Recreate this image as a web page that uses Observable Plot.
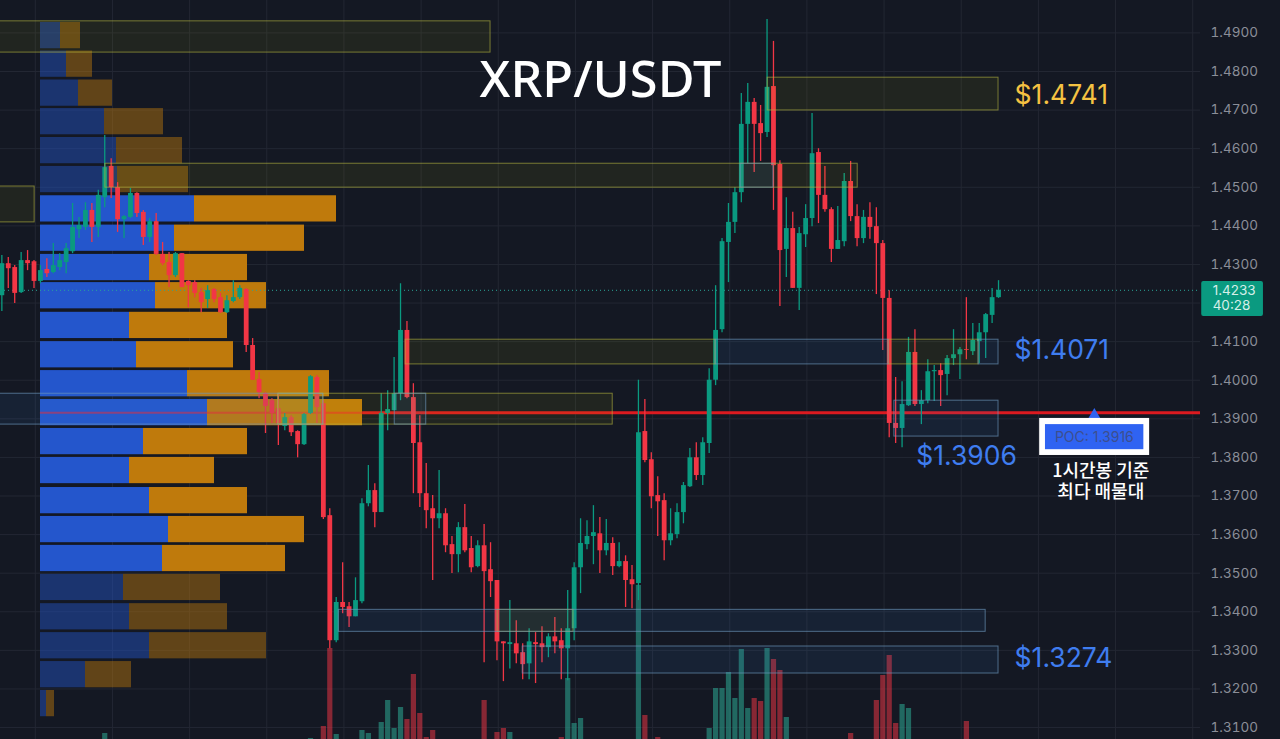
<!DOCTYPE html>
<html><head><meta charset="utf-8">
<style>html,body{margin:0;padding:0;background:#141823;overflow:hidden}#chart{position:relative;width:1280px;height:739px}</style>
<script src="https://cdn.jsdelivr.net/npm/d3@7"></script>
<script src="https://cdn.jsdelivr.net/npm/@observablehq/plot@0.6"></script>
</head><body><div id="chart"></div>
<script>
const open=[1.4219,1.4302,1.4292,1.4227,1.4310,1.4307,1.4256,1.4287,1.4279,1.4292,
1.4305,1.4333,1.4390,1.4396,1.4440,1.4396,1.4473,1.4554,1.4499,1.4416,
1.4422,1.4484,1.4435,1.4370,1.4411,1.4326,1.4305,1.4271,1.4328,1.4256,
1.4253,1.4227,1.4209,1.4235,1.4214,1.4175,1.4204,1.4214,1.4235,1.4090,
1.4002,1.3965,1.3947,1.3926,1.3880,1.3903,1.3867,1.3833,1.3914,1.4007,
1.3939,1.3649,1.3325,1.3424,1.3413,1.3387,1.3426,1.3680,1.3714,1.3657,
1.3914,1.3921,1.3965,1.4129,1.3955,1.3838,1.3706,1.3667,1.3641,1.3654,
1.3574,1.3548,1.3618,1.3564,1.3517,1.3571,1.3509,1.3481,1.3322,1.3315,
1.3317,1.3294,1.3265,1.3320,1.3317,1.3307,1.3335,1.3325,1.3304,1.3356,
1.3514,1.3574,1.3595,1.3602,1.3558,1.3577,1.3517,1.3530,1.3483,1.3473,
1.3867,1.3794,1.3701,1.3688,1.3584,1.3600,1.3657,1.3724,1.3799,1.3753,
1.3836,1.4000,1.4131,1.4357,1.4409,1.4486,1.4663,1.4720,1.4665,1.4642,
1.4761,1.4559,1.4339,1.4393,1.4238,1.4377,1.4419,1.4590,1.4479,1.4442,
1.4339,1.4359,1.4515,1.4424,1.4367,1.4422,1.4398,1.4354,1.4212,1.3888,
1.3875,1.3934,1.4072,1.3937,1.3947,1.4022,1.4025,1.4015,1.4056,1.4066,
1.4079,1.4074,1.4100,1.4123,1.4168,1.4214];
const close=[1.4302,1.4289,1.4225,1.4310,1.4302,1.4256,1.4284,1.4276,1.4297,1.4310,
1.4341,1.4396,1.4401,1.4440,1.4396,1.4479,1.4551,1.4499,1.4416,1.4424,
1.4484,1.4432,1.4370,1.4411,1.4326,1.4302,1.4271,1.4328,1.4240,1.4245,
1.4225,1.4201,1.4232,1.4209,1.4175,1.4206,1.4214,1.4238,1.4090,1.4000,
1.3968,1.3932,1.3914,1.3888,1.3903,1.3864,1.3833,1.3911,1.4009,1.3929,
1.3644,1.3325,1.3424,1.3411,1.3387,1.3429,1.3680,1.3714,1.3657,1.3914,
1.3924,1.3965,1.4129,1.3955,1.3836,1.3706,1.3662,1.3641,1.3654,1.3571,
1.3548,1.3618,1.3558,1.3514,1.3571,1.3504,1.3478,1.3322,1.3317,1.3320,
1.3291,1.3263,1.3322,1.3315,1.3307,1.3335,1.3322,1.3304,1.3356,1.3514,
1.3577,1.3595,1.3605,1.3558,1.3577,1.3517,1.3530,1.3481,1.3470,1.3864,
1.3792,1.3698,1.3685,1.3584,1.3602,1.3657,1.3727,1.3799,1.3753,1.3838,
1.4000,1.4129,1.4359,1.4409,1.4486,1.4663,1.4720,1.4663,1.4639,1.4759,
1.4556,1.4336,1.4393,1.4238,1.4380,1.4419,1.4587,1.4479,1.4442,1.4339,
1.4362,1.4515,1.4424,1.4367,1.4422,1.4396,1.4354,1.4212,1.3888,1.3875,
1.3937,1.4072,1.3937,1.3947,1.4022,1.4025,1.4012,1.4056,1.4066,1.4079,
1.4077,1.4103,1.4123,1.4170,1.4214,1.4233];
const high=[1.4323,1.4318,1.4297,1.4331,1.4336,1.4310,1.4297,1.4315,1.4354,1.4328,
1.4354,1.4458,1.4422,1.4460,1.4458,1.4492,1.4634,1.4574,1.4512,1.4427,
1.4497,1.4486,1.4440,1.4419,1.4432,1.4357,1.4331,1.4331,1.4328,1.4258,
1.4258,1.4238,1.4245,1.4238,1.4225,1.4219,1.4258,1.4245,1.4238,1.4108,
1.4020,1.3968,1.3952,1.3965,1.3914,1.3908,1.3869,1.3914,1.4012,1.4012,
1.3947,1.3667,1.3437,1.3527,1.3424,1.3488,1.3693,1.3779,1.3732,1.3965,
1.3973,1.4059,1.4250,1.4152,1.3991,1.3908,1.3784,1.3701,1.3766,1.3667,
1.3595,1.3631,1.3678,1.3595,1.3584,1.3626,1.3579,1.3481,1.3322,1.3429,
1.3377,1.3317,1.3356,1.3346,1.3361,1.3343,1.3385,1.3356,1.3455,1.3527,
1.3641,1.3636,1.3675,1.3644,1.3639,1.3592,1.3579,1.3545,1.3520,1.4000,
1.3950,1.3812,1.3750,1.3706,1.3667,1.3680,1.3735,1.3823,1.3838,1.3851,
1.4030,1.4245,1.4367,1.4458,1.4499,1.4743,1.4769,1.4730,1.4712,1.4935,
1.4878,1.4569,1.4473,1.4435,1.4396,1.4455,1.4691,1.4600,1.4554,1.4447,
1.4450,1.4536,1.4567,1.4455,1.4440,1.4460,1.4447,1.4362,1.4232,1.4007,
1.3996,1.4111,1.4131,1.3973,1.4053,1.4038,1.4043,1.4064,1.4131,1.4085,
1.4214,1.4147,1.4147,1.4173,1.4238,1.4258];
const low=[1.4178,1.4238,1.4199,1.4225,1.4284,1.4238,1.4250,1.4266,1.4276,1.4284,
1.4276,1.4328,1.4367,1.4388,1.4357,1.4370,1.4447,1.4471,1.4383,1.4367,
1.4419,1.4422,1.4349,1.4357,1.4323,1.4297,1.4240,1.4266,1.4240,1.4188,
1.4214,1.4175,1.4186,1.4201,1.4173,1.4173,1.4201,1.4209,1.4072,1.4000,
1.3952,1.3862,1.3888,1.3831,1.3869,1.3854,1.3799,1.3831,1.3911,1.3888,
1.3639,1.3304,1.3320,1.3395,1.3359,1.3387,1.3421,1.3672,1.3618,1.3657,
1.3869,1.3921,1.3947,1.3952,1.3706,1.3670,1.3615,1.3481,1.3615,1.3553,
1.3499,1.3501,1.3553,1.3501,1.3514,1.3268,1.3437,1.3273,1.3219,1.3252,
1.3265,1.3224,1.3224,1.3214,1.3268,1.3281,1.3291,1.3224,1.3221,1.3325,
1.3447,1.3561,1.3522,1.3499,1.3545,1.3494,1.3514,1.3411,1.3408,1.3429,
1.3786,1.3667,1.3595,1.3532,1.3571,1.3589,1.3628,1.3722,1.3740,1.3727,
1.3810,1.3986,1.4123,1.4253,1.4380,1.4460,1.4561,1.4538,1.4567,1.4629,
1.4440,1.4191,1.4266,1.4238,1.4181,1.4344,1.4398,1.4406,1.4435,1.4305,
1.4339,1.4346,1.4411,1.4346,1.4354,1.4365,1.4222,1.4077,1.3851,1.3836,
1.3825,1.3932,1.3932,1.3885,1.3939,1.3945,1.3932,1.3960,1.4038,1.4002,
1.4053,1.4064,1.4043,1.4056,1.4147,1.4212];

const volumeIndex=[16,48,50,51,52,56,57,59,60,61,62,63,64,65,66,67,75,77,78,79,87,88,89,90,99,100,102,110,111,112,113,114,115,116,117,118,119,120,121,122,132,136,137,138,139,140,141,150];
const volumeValue=[6,1,13,91,5,9,6,17,39,11,32,20,65,26,2,9,39,7,11,7,2,61,16,21,154,24,2,11,51,51,67,41,90,31,41,38,91,80,69,22,6,39,64,84,16,35,31,18];

const profilePrice=[1.4893,1.4819,1.4744,1.4670,1.4595,1.4520,1.4444,1.4368,1.4292,1.4219,1.4142,1.4066,1.3991,1.3916,1.3841,1.3766,1.3688,1.3613,1.3538,1.3463,1.3387,1.3312,1.3237,1.3162];
const profileBuy=[20,26,38,64,76,77,154,134,109,115,89,96,147,167,103,89,109,128,122,83,89,109,45,6];
const profileSell=[20,26,34,59,66,71,142,130,98,111,98,97,142,155,104,85,98,136,123,97,98,117,46,8];
const profileActive=[0,0,0,0,0,0,1,1,1,1,1,1,1,1,1,1,1,1,1,0,0,0,0,0];
const profileHalf=0.0034;

// [first candle, last candle, upper price, lower price]
const yellowZones=[[-3,76,1.4930,1.4849],[-3,5.1,1.4502,1.4409],[119.1,155,1.4784,1.4699],[16.1,133.1,1.4561,1.4499],[62.8,111,1.4105,1.4041],[137.9,151.9,1.4105,1.4041],[43,95,1.3965,1.3885],[43,50,1.3965,1.3885],[77.1,88.9,1.3405,1.3348]];
const blueZones=[[114.9,120,1.4561,1.4499],[111,137.9,1.4105,1.4041],[151.9,155,1.4105,1.4041],[-3,50,1.3965,1.3885],[61.1,66,1.3965,1.3885],[52.4,153,1.3405,1.3348],[81,155,1.3310,1.3240],[138.8,155,1.3947,1.3854]];

const priceTicks=[1.49,1.48,1.47,1.46,1.45,1.44,1.43,1.42,1.41,1.40,1.39,1.38,1.37,1.36,1.35,1.34,1.33,1.32,1.31];
const gridCandles=[5.2,17.2,29.2,41.2,53.2,65.2,77.2,89.2,101.2,113.2,125.2,137.2,149.2,161.2,173.2,185.2];
const lastPrice=1.4233, pocPrice=1.3916;

const candles=open.map((o,i)=>({i,o,c:close[i],h:high[i],l:low[i]}));
const GREEN="#0a9a80", RED="#f23645", BLUE="#2456cc", ORANGE="#bf7a0c";
const up=d=>d.c>=d.o;
const volumes=volumeIndex.map((i,k)=>({i,v:volumeValue[k],up:close[i]>=open[i]}));
const profile=profilePrice.map((p,k)=>({p,buy:profileBuy[k],sell:profileSell[k],op:profileActive[k]?1:0.45}));
const zone=z=>({x1:z[0],x2:z[1],y1:z[2],y2:z[3]});

const common={width:1280,height:739,marginTop:0,marginBottom:0,marginLeft:0,marginRight:80,
  style:{position:"absolute",left:0,top:0,background:"transparent",fontFamily:"Inter"},
  x:{domain:[-0.21,186.41],range:[0,1200],axis:null}};
const Y={domain:[1.4984,1.3069],range:[0,739],axis:null};
const root=document.getElementById("chart");

root.append(Plot.plot({...common,y:Y,marks:[
  Plot.gridX(gridCandles,{stroke:"#232733",strokeOpacity:1,strokeWidth:1}),
  Plot.gridY(priceTicks,{stroke:"#232733",strokeOpacity:1,strokeWidth:1}),
  Plot.axisY(priceTicks,{anchor:"right",tickSize:0,tickPadding:10,tickFormat:d3.format(".4f"),fill:"#8b8e98",fontSize:13.5,fontFamily:"Inter"})
]}));

root.append(Plot.plot({...common,y:{domain:[0,739],range:[739,0],axis:null},marks:[
  Plot.ruleX(volumes.filter(d=>d.up),{x:"i",y1:0,y2:"v",stroke:"#2a9a88",strokeOpacity:.62,strokeWidth:5.2}),
  Plot.ruleX(volumes.filter(d=>!d.up),{x:"i",y1:0,y2:"v",stroke:RED,strokeOpacity:.52,strokeWidth:5.2})
]}));

root.append(Plot.plot({...common,y:Y,x:{domain:[-40,1160],range:[0,1200],axis:null},marks:[
  Plot.rect(profile,{x1:0,x2:"buy",y1:d=>d.p+profileHalf,y2:d=>d.p-profileHalf,fill:BLUE,fillOpacity:"op"}),
  Plot.rect(profile,{x1:"buy",x2:d=>d.buy+d.sell,y1:d=>d.p+profileHalf,y2:d=>d.p-profileHalf,fill:ORANGE,fillOpacity:"op"})
]}));

root.append(Plot.plot({...common,y:Y,marks:[
  Plot.ruleY([lastPrice],{x1:-0.21,x2:186.41,stroke:"#2aa598",strokeWidth:1,strokeDasharray:"1,3"}),
  Plot.ruleY([pocPrice],{x1:6,x2:56.1,stroke:"#f0282d",strokeOpacity:.55,strokeWidth:2}),
  Plot.ruleY([pocPrice],{x1:56.1,x2:186.41,stroke:"#dc1a20",strokeWidth:3}),
  Plot.ruleX(candles.filter(up),{x:"i",y1:"l",y2:"h",stroke:GREEN,strokeWidth:1.3}),
  Plot.ruleX(candles.filter(d=>!up(d)),{x:"i",y1:"l",y2:"h",stroke:RED,strokeWidth:1.3}),
  Plot.ruleX(candles.filter(up),{x:"i",y1:"o",y2:"c",stroke:GREEN,strokeWidth:4.8}),
  Plot.ruleX(candles.filter(d=>!up(d)),{x:"i",y1:"o",y2:"c",stroke:RED,strokeWidth:4.8}),
  Plot.rect(yellowZones.map(zone),{x1:"x1",x2:"x2",y1:"y1",y2:"y2",fill:"#d8d000",fillOpacity:.07,stroke:"#b8b840",strokeOpacity:.6,clip:true}),
  Plot.rect(blueZones.map(zone),{x1:"x1",x2:"x2",y1:"y1",y2:"y2",fill:"#3a82d0",fillOpacity:.1,stroke:"#6d98bd",strokeOpacity:.65,clip:true}),
  Plot.text(["XRP/USDT"],{x:93.1,y:1.4775,text:d=>d,fill:"#fff",fontSize:50.5,fontFamily:"Noto Sans",fontWeight:500}),
  Plot.text(["$1.4741"],{x:157.5,y:1.4738,text:d=>d,fill:"#f5c242",fontSize:26.5,fontWeight:400,textAnchor:"start",fontFamily:"Inter"}),
  Plot.text(["$1.4071"],{x:157.5,y:1.4077,text:d=>d,fill:"#3f7df0",fontSize:26.5,fontWeight:400,textAnchor:"start",fontFamily:"Inter"}),
  Plot.text(["$1.3906"],{x:142.2,y:1.3802,text:d=>d,fill:"#3f7df0",fontSize:26.5,fontWeight:400,textAnchor:"start",fontFamily:"Inter"}),
  Plot.text(["$1.3274"],{x:157.5,y:1.3278,text:d=>d,fill:"#3f7df0",fontSize:26.5,fontWeight:400,textAnchor:"start",fontFamily:"Inter"}),
  Plot.dot([0],{x:169.9,y:1.3908,symbol:"triangle",r:5,fill:"#2f63f2"}),
  Plot.rect([0],{x1:161.4,x2:178.5,y1:1.3901,y2:1.3805,fill:"#fff"}),
  Plot.rect([0],{x1:162.3,x2:177.6,y1:1.3885,y2:1.3820,fill:"#2f63f2"}),
  Plot.text(["POC: 1.3916"],{x:169.9,y:1.3851,text:d=>d,fill:"#3d4f8e",fontSize:14,fontFamily:"Inter"}),
  Plot.text(["1시간봉 기준"],{x:170.9,y:1.3763,text:d=>d,fill:"#fff",fontSize:18,fontWeight:500,fontFamily:"Noto Sans CJK KR"}),
  Plot.text(["최다 매물대"],{x:170.9,y:1.3711,text:d=>d,fill:"#fff",fontSize:18,fontWeight:500,fontFamily:"Noto Sans CJK KR"}),
  Plot.rect([0],{x1:186.6,x2:196.2,y1:1.4256,y2:1.4165,fill:"#0a9a80",rx:2}),
  Plot.text(["1.4233"],{x:188.3,y:1.4232,text:d=>d,fill:"#d5efe9",fontSize:13.5,textAnchor:"start",fontFamily:"Inter"}),
  Plot.text(["40:28"],{x:188.3,y:1.4193,text:d=>d,fill:"#d5efe9",fontSize:13.5,textAnchor:"start",fontFamily:"Inter"})
]}));
</script></body></html>
